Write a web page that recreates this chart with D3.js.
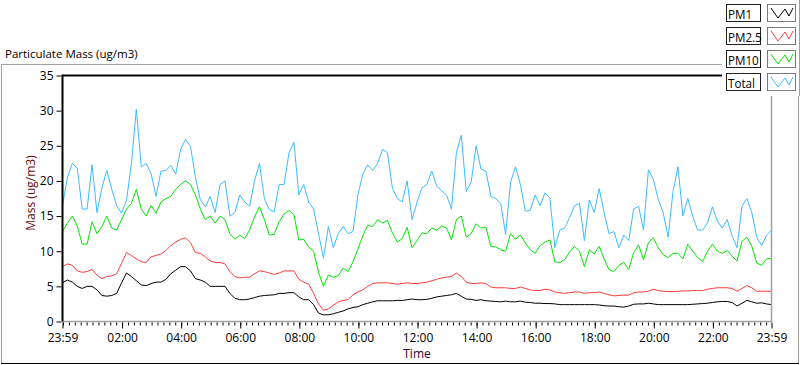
<!DOCTYPE html>
<html>
<head>
<meta charset="utf-8">
<script src="https://cdn.jsdelivr.net/npm/d3@7"></script>
<style>
  body { margin: 0; background: #fff; }
  svg text { font-family: "Segoe UI", "Open Sans", sans-serif; font-size: 11px; fill: #000; }
</style>
</head>
<body>
<svg id="chart" width="800" height="365"></svg>
<script>
// Samples every 10 minutes starting 23:59 (145 points per series)
const stepMinutes = 10;

const pm1 = [
  5.5, 5.9, 5.6, 5.0, 4.7, 5.0, 5.0, 4.5, 3.7, 3.6, 3.7, 4.0, 5.5, 6.9, 6.4, 5.8, 5.2, 5.1, 5.4, 5.6,
  5.6, 6.0, 6.8, 7.3, 7.8, 7.8, 7.2, 6.1, 5.9, 5.6, 5.0, 5.0, 5.0, 5.0, 4.0, 3.3, 3.1, 3.1, 3.2, 3.4,
  3.6, 3.7, 3.75, 3.8, 4.0, 4.0, 4.1, 4.1, 3.5, 3.1, 3.1, 2.4, 1.2, 0.95, 0.95, 1.1, 1.3, 1.5, 1.8, 2.0,
  2.1, 2.4, 2.6, 2.8, 2.95, 2.95, 2.95, 2.95, 3.0, 3.0, 3.1, 3.2, 3.1, 3.1, 3.15, 3.3, 3.5, 3.6, 3.7, 3.8,
  4.0, 3.6, 3.2, 3.15, 3.0, 3.1, 2.95, 2.9, 2.85, 2.8, 2.9, 2.8, 2.8, 2.9, 2.75, 2.7, 2.6, 2.6, 2.55, 2.55,
  2.5, 2.4, 2.4, 2.4, 2.4, 2.4, 2.4, 2.4, 2.4, 2.35, 2.25, 2.2, 2.2, 2.1, 2.05, 2.2, 2.45, 2.5, 2.5, 2.6,
  2.5, 2.4, 2.4, 2.4, 2.4, 2.4, 2.4, 2.4, 2.45, 2.5, 2.55, 2.6, 2.7, 2.8, 2.85, 2.85, 2.7, 2.2, 2.6, 3.0,
  2.8, 2.6, 2.65, 2.5, 2.4
];

const pm25 = [
  7.8, 8.2, 8.0, 7.2, 7.0, 7.1, 7.4, 6.6, 6.1, 6.4, 6.5, 6.8, 8.3, 9.8, 9.4, 8.9, 8.5, 8.4, 9.2, 9.4,
  9.6, 10.1, 10.8, 11.3, 11.7, 11.9, 11.2, 9.8, 9.7, 9.2, 8.6, 8.4, 8.4, 8.2, 7.1, 6.4, 6.2, 6.3, 6.3, 6.8,
  7.2, 7.1, 6.9, 6.7, 6.9, 7.2, 7.2, 7.2, 6.0, 5.6, 5.3, 4.0, 2.5, 1.6, 1.8, 2.3, 2.8, 3.0, 3.1, 3.8,
  4.2, 4.5, 5.0, 5.4, 5.5, 5.5, 5.5, 5.4, 5.3, 5.4, 5.5, 5.4, 5.4, 5.5, 5.6, 5.8, 6.0, 6.2, 6.3, 6.4,
  6.9, 6.4, 5.6, 5.4, 5.4, 5.5, 5.4, 4.9, 4.8, 4.8, 4.8, 4.7, 4.7, 4.9, 4.7, 4.5, 4.4, 4.4, 4.6, 4.5,
  4.2, 4.1, 4.0, 4.1, 4.2, 4.2, 4.0, 4.1, 4.1, 4.2, 4.0, 3.8, 3.65, 3.7, 3.75, 3.75, 4.1, 4.2, 4.2, 4.3,
  4.6, 4.4, 4.3, 4.25, 4.25, 4.3, 4.35, 4.35, 4.4, 4.4, 4.4, 4.6, 4.7, 4.8, 4.8, 4.8, 4.7, 4.3, 4.7, 5.1,
  4.8, 4.3, 4.3, 4.3, 4.3
];

const pm10 = [
  12.8, 14.0, 15.0, 13.6, 11.0, 11.0, 14.2, 12.5, 13.5, 15.0, 13.3, 13.0, 14.5, 16.0, 16.8, 18.8, 16.0, 15.0, 16.5, 15.4,
  17.0, 17.5, 17.8, 18.8, 19.5, 20.0, 19.5, 18.0, 16.0, 14.5, 15.0, 14.0, 15.0, 14.5, 12.5, 11.7, 12.3, 11.8, 13.0, 14.9,
  16.3, 14.5, 12.3, 12.4, 14.2, 15.3, 15.8, 15.2, 11.6, 11.7, 10.6, 10.0, 7.0, 5.0, 6.6, 6.3, 6.5, 7.6, 7.1, 8.5,
  10.3, 12.2, 13.7, 13.5, 14.5, 14.0, 14.4, 12.6, 11.3, 11.8, 13.4, 10.5, 11.5, 12.6, 12.5, 13.3, 13.0, 13.6, 13.3, 11.6,
  14.5, 15.0, 12.0, 12.5, 13.9, 13.3, 13.4, 10.7, 10.6, 10.2, 10.0, 12.5, 11.7, 12.3, 11.2, 10.2, 9.7, 10.8, 11.3, 11.6,
  8.5, 8.4, 8.8, 9.9, 10.7, 10.0, 7.8, 10.2, 9.6, 10.7, 8.9, 7.4, 7.1, 8.0, 8.4, 7.4, 9.8, 10.9, 8.8, 11.2,
  11.9, 10.5, 9.5, 9.1, 9.7, 9.7, 8.9, 11.0, 10.0, 9.1, 8.5, 10.0, 11.0, 10.0, 9.7, 10.1, 9.3, 8.6, 11.4, 12.0,
  10.7, 8.3, 8.0, 8.9, 9.0
];

const total = [
  16.5, 20.5, 22.5, 21.8, 16.0, 16.0, 22.3, 15.5, 19.0, 21.5, 18.8, 16.5, 15.4, 17.2, 22.5, 30.2, 22.0, 22.5, 21.0, 17.8,
  21.4, 21.5, 22.2, 21.0, 24.5, 25.9, 24.9, 20.5, 17.3, 16.3, 17.8, 15.5, 19.5, 20.0, 15.0, 15.5, 18.0, 17.0, 16.4, 20.0,
  22.5, 17.5, 15.9, 15.6, 19.5, 19.5, 24.0, 25.5, 18.0, 19.5, 17.0, 16.0, 12.5, 9.0, 13.5, 10.5, 12.5, 13.5, 12.5, 12.8,
  18.0, 21.0, 22.3, 21.5, 22.5, 24.5, 24.0, 19.0, 17.5, 17.0, 20.0, 14.5, 17.0, 19.0, 19.5, 21.4, 19.3, 18.6, 18.0, 16.0,
  24.0, 26.5, 18.5, 19.8, 25.0, 21.7, 21.4, 17.8, 17.5, 16.8, 12.4, 19.8, 22.0, 19.5, 15.7, 15.8, 18.0, 16.5, 18.3, 17.5,
  10.5, 13.0, 13.3, 14.8, 16.5, 16.8, 11.5, 17.3, 15.5, 18.9, 15.5, 12.5, 12.8, 10.5, 12.3, 11.5, 16.0, 16.4, 13.0, 21.6,
  20.2, 17.4, 15.5, 12.0, 18.5, 22.0, 15.0, 17.5, 15.0, 13.0, 13.0, 14.0, 16.3, 14.3, 13.3, 14.5, 12.2, 10.5, 16.4, 17.5,
  15.5, 12.0, 10.8, 12.3, 13.0
];

const seriesNames = ["PM1", "PM2.5", "PM10", "Total"];
const seriesColors = ["#000000", "#ff3c3c", "#00e600", "#3cbcff"];
const seriesData = [pm1, pm25, pm10, total];
const yTicks = [0, 5, 10, 15, 20, 25, 30, 35];

const svg = d3.select("#chart");
const start = new Date(2024, 0, 1, 23, 59);
const end = new Date(2024, 0, 2, 23, 59);

const plot = { left: 62.5, right: 771.5, top: 75.5, bottom: 321.5 };

const x = d3.scaleTime().domain([start, end]).range([plot.left, plot.right]);
const y = d3.scaleLinear().domain([0, 35]).range([plot.bottom, plot.top]);

// title + outer frame
svg.append("text").attr("x", 5).attr("y", 58).style("font-size", "11.5px").text("Particulate Mass (ug/m3)");
svg.append("path").attr("d", "M1.5,363 V64.5 H798.5 V363").attr("fill", "none").attr("stroke", "#a0a0a0");
svg.append("line").attr("x1", 1).attr("x2", 799).attr("y1", 363.5).attr("y2", 363.5).attr("stroke", "#000");

svg.append("rect").attr("x", plot.left).attr("y", plot.top).attr("width", plot.right - plot.left)
  .attr("height", plot.bottom - plot.top).attr("fill", "#fff");

// lines, Total drawn first so the others sit on top
const timeOf = i => new Date(start.getTime() + i * stepMinutes * 60000);
const line = d3.line().x((d, i) => x(timeOf(i))).y(d => y(d));
[3, 2, 1, 0].forEach(k => {
  svg.append("path").datum(seriesData[k]).attr("d", line)
    .attr("fill", "none").attr("stroke", seriesColors[k]).attr("stroke-width", 1);
});

// plot area borders (dark top/left, grey bottom/right)
svg.append("path").attr("d", `M${plot.left},${plot.bottom} H${plot.right} V${plot.top}`)
  .attr("fill", "none").attr("stroke", "#a0a0a0").attr("stroke-width", 1.5);
svg.append("path").attr("d", `M${plot.left},${plot.bottom} V${plot.top} H${plot.right}`)
  .attr("fill", "none").attr("stroke", "#000").attr("stroke-width", 2);

// y axis
const yAxis = svg.append("g").attr("transform", `translate(${plot.left - 1},0)`)
  .call(d3.axisLeft(y).tickValues(yTicks).tickSize(5).tickPadding(3));
yAxis.select(".domain").remove();
yAxis.selectAll("text").style("font-size", "12px");

// x axis: major + minor ticks
const majorTicks = [start].concat(d3.range(2, 24, 2).map(h => new Date(2024, 0, 2, h, 0)), [end]);
const minorTicks = d3.timeMinute.every(12).range(new Date(2024, 0, 2, 0, 0), end);
const xMinor = svg.append("g").attr("transform", `translate(0,${plot.bottom + 1})`)
  .call(d3.axisBottom(x).tickValues(minorTicks).tickSize(3).tickFormat(""));
xMinor.select(".domain").remove();
const xAxis = svg.append("g").attr("transform", `translate(0,${plot.bottom + 1})`)
  .call(d3.axisBottom(x).tickValues(majorTicks).tickSize(6).tickPadding(5).tickFormat(d3.timeFormat("%H:%M")));
xAxis.select(".domain").remove();
xAxis.selectAll("text").style("font-size", "12px");

// axis titles
svg.append("text").attr("x", (plot.left + plot.right) / 2).attr("y", 358).attr("text-anchor", "middle")
  .style("font-size", "12px").style("fill", "#300030").text("Time");
svg.append("text").attr("transform", "translate(35,193) rotate(-90)").attr("text-anchor", "middle")
  .style("font-size", "12px").style("fill", "#6a0a0a").text("Mass (ug/m3)");

// legend
const legend = svg.append("g");
legend.append("rect").attr("x", 722).attr("y", 0).attr("width", 77).attr("height", 96).attr("fill", "#fff");
legend.append("line").attr("x1", 799.5).attr("x2", 799.5).attr("y1", 0).attr("y2", 96).attr("stroke", "#a0a0a0");
seriesNames.forEach((name, i) => {
  const gy = 4 + i * 23;
  const g = legend.append("g").attr("transform", `translate(0,${gy})`);
  g.append("rect").attr("x", 726.5).attr("y", 0.5).attr("width", 34).attr("height", 17)
    .attr("fill", "#fff").attr("stroke", "#222");
  const t = g.append("text").attr("x", 728).attr("y", 14.5).style("font-size", "13.5px").text(name);
  // narrow the label a bit, the original uses a condensed face
  const w = t.node().getComputedTextLength();
  t.attr("textLength", w * 0.86).attr("lengthAdjust", "spacingAndGlyphs");
  g.append("rect").attr("x", 767.5).attr("y", 0.5).attr("width", 28).attr("height", 17)
    .attr("fill", "#fff").attr("stroke", "#7a7a7a");
  g.append("path").attr("d", "M771,4 L778,14 L785,5 L789,12 L793,4")
    .attr("fill", "none").attr("stroke", seriesColors[i]);
});
</script>
</body>
</html>
